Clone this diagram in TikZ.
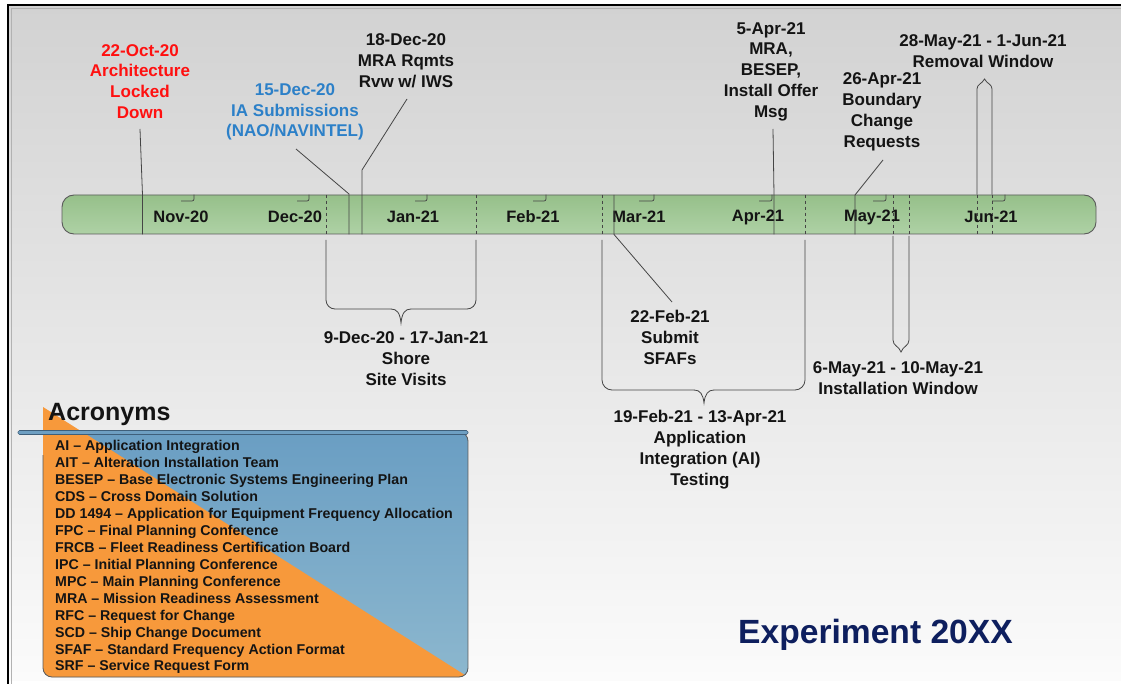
\documentclass[tikz,border=0pt]{standalone}
\usepackage{fontspec}
\setmainfont{Liberation Sans}
\definecolor{bgtop}{HTML}{D2D2D2}
\definecolor{bgbot}{HTML}{FBFBFB}
\definecolor{bartop}{HTML}{96C08A}
\definecolor{barbot}{HTML}{AED1A5}
\definecolor{bardraw}{HTML}{5A5A5A}
\definecolor{linegray}{HTML}{454545}
\definecolor{txt}{HTML}{141414}
\definecolor{redtxt}{HTML}{FF1010}
\definecolor{bluetxt}{HTML}{2C80C8}
\definecolor{navy}{HTML}{0E1F5E}
\definecolor{orng}{HTML}{F7993B}
\definecolor{pbluetop}{HTML}{6A9EC3}
\definecolor{pbluebot}{HTML}{8CB7CE}
\definecolor{sepfill}{HTML}{6E9FC2}
\definecolor{sepdraw}{HTML}{3F5F7A}
\begin{document}
\begin{tikzpicture}[x=1pt,y=-1pt,
  lbl/.style={font=\fontsize{17}{20.8}\selectfont\bfseries, align=center, text=txt, inner sep=0pt},
  mon/.style={font=\fontsize{16.5}{18}\selectfont\bfseries, text=txt, inner sep=0pt},
  ln/.style={draw=linegray, line width=0.8pt},
  dsh/.style={draw=linegray, line width=0.8pt, dash pattern=on 3.5pt off 2.5pt},
  hook/.style={draw=linegray, line width=0.7pt, rounded corners=2pt},
]
\useasboundingbox (0,0) rectangle (1121,684);
\fill[white] (0,0) rectangle (1121,684);
\shade[top color=bgtop, bottom color=bgbot] (8,5) rectangle (1121,680);
\draw[black, line width=2pt] (8,684) -- (8,5) -- (1121,5);
\draw[gray!60, line width=0.5pt] (11,684) -- (11,8.5) -- (1121,8.5);

% timeline bar
\node[draw=bardraw, line width=0.9pt, rounded corners=12pt, top color=bartop, bottom color=barbot,
      minimum width=1034pt, minimum height=39pt, inner sep=0pt] (bar) at (579,214.5) {};

% dashed separators in the bar
\foreach \x in {326,476,602,805,893,909,977,992}
  \draw[dsh] (\x,0 |- bar.north) -- (\x,0 |- bar.south);

% month hooks
\foreach \a/\b in {194/181,309/297,427/415,546/533,654/639,772/759,886/873,1005/992}
  \draw[hook] (\a,0 |- bar.north) -- (\a,201) -- (\b,201);

% month labels
\node[mon] (m1) at (181,217) {Nov-20};
\node[mon] (m2) at (295,217) {Dec-20};
\node[mon] (m3) at (413,217) {Jan-21};
\node[mon] (m4) at (533,217) {Feb-21};
\node[mon] (m5) at (639,217) {Mar-21};
\node[mon] (m6) at (758,217) {Apr-21};
\node[mon] (m7) at (872,217) {May-21};
\node[mon] (m8) at (991,217) {Jun-21};

% top labels
\node[lbl, text=redtxt] (arch) at (140,81.5) {22-Oct-20\\Architecture\\Locked\\Down};
\node[lbl, text=bluetxt] (ia) at (295,112) {15-Dec-20\\IA Submissions\\(NAO/NAVINTEL)};
\node[lbl] (mra) at (406,61) {18-Dec-20\\MRA Rqmts\\Rvw w/ IWS};
\node[lbl, font=\fontsize{17}{20.7}\selectfont\bfseries] (besep) at (771,71.5) {5-Apr-21\\MRA,\\BESEP,\\Install Offer\\Msg};
\node[lbl] (bcr) at (882,112) {26-Apr-21\\Boundary\\Change\\Requests};
\node[lbl] (rem) at (983,51.5) {28-May-21 - 1-Jun-21\\Removal Window};

% bottom labels
\node[lbl] (shore) at (406,358.5) {9-Dec-20 - 17-Jan-21\\Shore\\Site Visits};
\node[lbl] (sfaf) at (670,337.5) {22-Feb-21\\Submit\\SFAFs};
\node[lbl] (ai) at (700,449.5) {19-Feb-21 - 13-Apr-21\\Application\\Integration (AI)\\Testing};
\node[lbl] (inst) at (898,378.5) {6-May-21 - 10-May-21\\Installation Window};

% leader coordinates
\coordinate (arch1) at (140,129);  \coordinate (arch2) at (142.5,195);
\coordinate (ia1) at (296,149);    \coordinate (ia2) at (349,194);
\coordinate (mra1) at (407,99);    \coordinate (mra2) at (362,170);
\coordinate (bes1) at (773,129);   \coordinate (bes2) at (774,195);
\coordinate (bcr1) at (883,160);   \coordinate (bcr2) at (855,195);
\coordinate (sf1) at (614,195);    \coordinate (sf2) at (672,302);

\draw[ln] (arch1) -- (arch2) -- (arch2 |- bar.south);
\draw[ln] (ia1) -- (ia2) -- (ia2 |- bar.south);
\draw[ln] (mra1) -- (mra2) -- (mra2 |- bar.south);
\draw[ln] (bes1) -- (bes2) -- (bes2 |- bar.south);
\draw[ln] (bcr1) -- (bcr2) -- (bcr2 |- bar.south);
\draw[ln] (sf1) -- (sf1 |- bar.south) -- (sf2);

% shore site visits bracket
\draw[ln, rounded corners=9pt] (326,240) -- (326,309) -- (391,309);
\draw[ln] (391,309) .. controls (397,309) and (400,313) .. (401,323) .. controls (402,313) and (405,309) .. (411,309);
\draw[ln, rounded corners=9pt] (411,309) -- (476,309) -- (476,240);

% AI testing bracket
\draw[ln, rounded corners=10pt] (602,240) -- (602,390) -- (694,390);
\draw[ln] (694,390) .. controls (700,390) and (703,394) .. (704,403) .. controls (705,394) and (708,390) .. (714,390);
\draw[ln, rounded corners=10pt] (714,390) -- (805,390) -- (805,240);

% installation window bracket
\draw[ln] (893,236) -- (893,340) .. controls (893,346) and (899,346) .. (901,352)
          .. controls (903,346) and (909,346) .. (909,340) -- (909,236);

% removal window bracket
\draw[ln] (977,0 |- bar.north) -- (977,89) .. controls (977,84) and (982,84) .. (984.5,79)
          .. controls (987,84) and (992,84) .. (992,89) -- (992,0 |- bar.north);

% acronym panel
\begin{scope}
  \clip[rounded corners=9pt] (43,432) -- (43,677) -- (468,677) -- (468,432) -- cycle;
  \shade[top color=pbluetop, bottom color=pbluebot] (43,432) rectangle (468,677);
  \fill[orng] (43,407) -- (43,677) -- (468,677) -- cycle;
\end{scope}
\fill[orng] (43,407) -- (43,460) -- (126.4,460) -- cycle;
\draw[draw=bardraw, line width=0.8pt, rounded corners=9pt] (43,455) -- (43,677) -- (468,677) -- (468,432) -- (200,432);
\draw[fill=sepfill, draw=sepdraw, line width=0.6pt, rounded corners=1.5pt] (18,430.5) rectangle (468,434.5);

\node[anchor=west, font=\fontsize{25}{30}\selectfont\bfseries, text=txt, inner sep=0pt] (acr) at (48,414) {Acronyms};
\node[anchor=west, align=left, font=\fontsize{14.2}{16.92}\selectfont\bfseries, text=txt, inner sep=0pt] (list) at (55,557.3) {%
AI -- Application Integration\\
AIT -- Alteration Installation Team\\
BESEP -- Base Electronic Systems Engineering Plan\\
CDS -- Cross Domain Solution\\
DD 1494 -- Application for Equipment Frequency Allocation\\
FPC -- Final Planning Conference\\
FRCB -- Fleet Readiness Certification Board\\
IPC -- Initial Planning Conference\\
MPC -- Main Planning Conference\\
MRA -- Mission Readiness Assessment\\
RFC -- Request for Change\\
SCD -- Ship Change Document\\
SFAF -- Standard Frequency Action Format\\
SRF -- Service Request Form};

\node[anchor=west, font=\fontsize{33.6}{36}\selectfont\bfseries, text=navy, inner sep=0pt] (exp) at (738,635) {Experiment 20XX};
\end{tikzpicture}
\end{document}
